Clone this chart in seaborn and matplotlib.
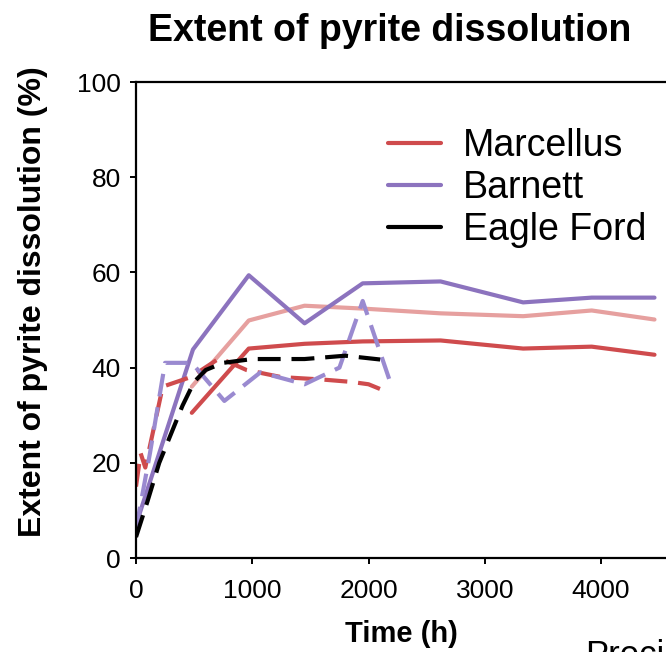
import matplotlib
matplotlib.use("Agg")
import matplotlib.pyplot as plt
from matplotlib.lines import Line2D
import seaborn as sns
import pandas as pd

# Marcellus, solid (red)
marc_t = [480, 970, 1450, 1950, 2620, 3330, 3920, 4460]
marc_y = [30.5, 44.0, 45.0, 45.5, 45.7, 44.0, 44.4, 42.7]

# Marcellus, second solid run (light red)
marc2_t = [480, 970, 1450, 1950, 2620, 3330, 3920, 4460]
marc2_y = [36.0, 49.9, 53.0, 52.4, 51.4, 50.8, 52.0, 50.1]

# Marcellus, dashed
marcd_t = [0, 40, 80, 230, 470, 720, 950, 1250, 1600, 1850, 2000, 2150]
marcd_y = [15.0, 22.0, 19.0, 36.0, 38.0, 42.0, 39.5, 38.0, 37.5, 37.0, 36.5, 35.0]

# Barnett, solid
barn_t = [0, 490, 970, 1450, 1950, 2620, 3330, 3920, 4460]
barn_y = [7.0, 43.8, 59.4, 49.3, 57.7, 58.1, 53.7, 54.7, 54.7]

# Barnett, dashed
barnd_t = [0, 120, 250, 480, 760, 1070, 1450, 1750, 1950, 2200]
barnd_y = [6.0, 22.0, 41.0, 41.0, 33.0, 39.0, 36.5, 40.0, 54.0, 36.0]

# Eagle Ford, dashed
eagle_t = [0, 100, 200, 300, 400, 500, 600, 750, 1000, 1450, 1800, 2100]
eagle_y = [4.4, 12.0, 20.0, 26.0, 32.0, 37.0, 39.5, 41.0, 41.8, 41.8, 42.5, 41.7]

legend_labels = ["Marcellus", "Barnett", "Eagle Ford"]

RED = "#cf4b4d"
PINK = "#e6a09f"
PURPLE = "#8c73be"
LAVENDER = "#9a8ad0"
BLACK = "#000000"

sns.set_theme(style="ticks")
plt.rcParams["font.family"] = ["Liberation Sans", "DejaVu Sans"]
plt.rcParams["text.color"] = "black"
plt.rcParams["xtick.color"] = "black"
plt.rcParams["ytick.color"] = "black"

fig = plt.figure(figsize=(6.66, 6.52), dpi=100)
ax = fig.add_axes([136 / 666, 94 / 652, 530 / 666, 476 / 652])

dash = (5.5, 2.6)
series = [
    (marc2_t, marc2_y, PINK, None),
    (marc_t, marc_y, RED, None),
    (barn_t, barn_y, PURPLE, None),
    (marcd_t, marcd_y, RED, dash),
    (barnd_t, barnd_y, LAVENDER, dash),
    (eagle_t, eagle_y, BLACK, dash),
]
for t, y, c, d in series:
    df = pd.DataFrame({"t": t, "y": y})
    sns.lineplot(data=df, x="t", y="y", ax=ax, color=c, linewidth=3.0,
                 estimator=None, sort=False, legend=False)
    if d is not None:
        ax.lines[-1].set_dashes(d)

ax.set_xlim(0, 4559)
ax.set_ylim(0, 100)
ax.set_xticks([0, 1000, 2000, 3000, 4000])
ax.set_yticks([0, 20, 40, 60, 80, 100])
ax.set_xlabel("")
ax.set_ylabel("")
ax.spines["right"].set_visible(False)
for s in ["left", "bottom", "top"]:
    ax.spines[s].set_linewidth(1.6)
    ax.spines[s].set_color("black")
ax.tick_params(axis="both", direction="out", length=4, width=1.4,
               labelsize=19, colors="black")
ax.tick_params(axis="x", pad=11)
ax.tick_params(axis="y", pad=7)

handles = [Line2D([], [], color=RED, lw=3),
           Line2D([], [], color=PURPLE, lw=3),
           Line2D([], [], color=BLACK, lw=3)]
ax.legend(handles, legend_labels, loc="upper left",
          bbox_to_anchor=((388 - 136) / 530, (558 - 128) / 476),
          frameon=False, fontsize=27, handlelength=1.4, handletextpad=0.6,
          labelspacing=0.16, borderpad=0, borderaxespad=0,
          labelcolor="black")

fig.text(390 / 666, 1 - 31 / 652, "Extent of pyrite dissolution",
         ha="center", va="center", fontsize=27, fontweight="bold")
fig.text(33 / 666, 1 - 302 / 652, "Extent of pyrite dissolution (%)",
         ha="center", va="center", rotation=90, fontsize=23, fontweight="bold")
fig.text(401 / 666, 1 - 634 / 652, "Time (h)",
         ha="center", va="center", fontsize=21, fontweight="bold")
fig.text(585 / 666, 1 - 655 / 652, "Precipitation",
         ha="left", va="center", fontsize=25)

fig.savefig("out.png", dpi=100)
